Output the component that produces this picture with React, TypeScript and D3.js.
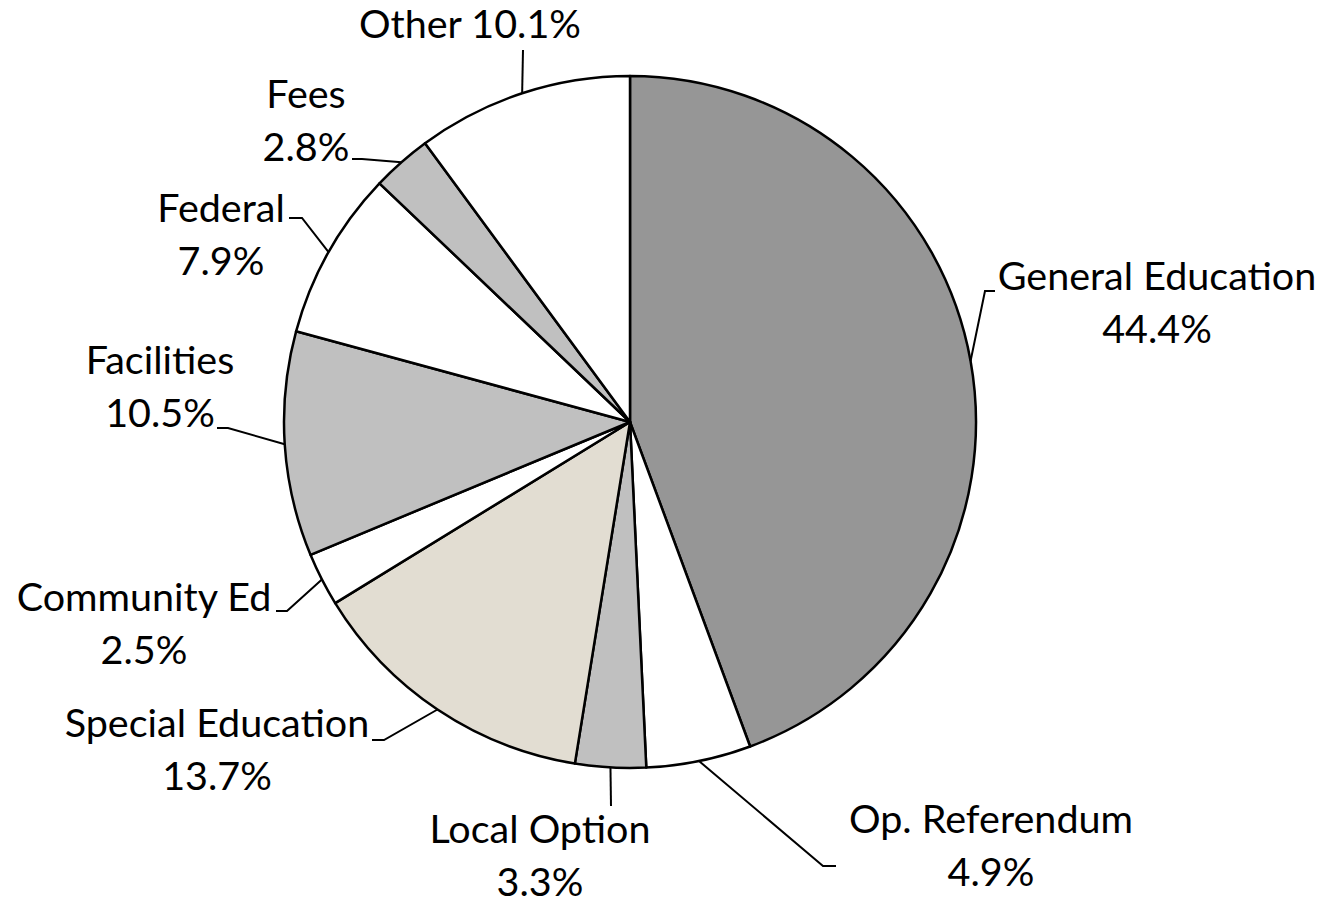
import React from 'react';
import * as d3 from 'd3';

const categories = ['General Education', 'Op. Referendum', 'Local Option', 'Special Education', 'Community Ed', 'Facilities', 'Federal', 'Fees', 'Other'];
const values = [44.4, 4.9, 3.3, 13.7, 2.5, 10.5, 7.9, 2.8, 10.1];
const fills = ['#969696', '#ffffff', '#c0c0c0', '#e2ddd2', '#ffffff', '#c0c0c0', '#ffffff', '#c0c0c0', '#ffffff'];
const singleLine = [false, false, false, false, false, false, false, false, true];

// label layout (absolute page positions): text center x, first baseline y, leader elbow, leader end
const labelX = [1157, 991, 540, 217, 144, 160, 221, 306, 470];
const labelY = [290, 833, 843, 737, 611, 374, 222, 108, 38];
const elbows = [[985, 291], [823, 866], [611, 806], [384, 740], [287, 611], [228, 428], [302, 218], [362, 159], [523, 50]];
const ends = [[995, 291], [836, 866], [611, 806], [372, 740], [276, 611], [217, 428], [289, 218], [352, 159], [523, 50]];

const W = 1323, H = 904;
const CX = 630, CY = 422, R = 346;
const FONT = 'Lato, "Open Sans", sans-serif';
const FS = 39.5;
const LH = 52.5;

export default function App() {
  const pie = d3.pie<number>().sort(null).startAngle(0).endAngle(2 * Math.PI);
  const arcs = pie(values);
  const arcGen = d3.arc<d3.PieArcDatum<number>>().innerRadius(0).outerRadius(R);
  const edgeGen = d3.arc<d3.PieArcDatum<number>>().innerRadius(R).outerRadius(R);

  return (
    <svg width={W} height={H} style={{ position: 'absolute', left: 0, top: 0, background: '#fff' }}>
      <g transform={`translate(${CX},${CY})`}>
        {arcs.map((a, i) => (
          <path key={i} d={arcGen(a) || ''} fill={fills[i]} stroke="#000" strokeWidth={2.5} strokeLinejoin="round" />
        ))}
      </g>
      {arcs.map((a, i) => {
        const [sx, sy] = edgeGen.centroid(a);
        const pts = [[CX + sx, CY + sy], elbows[i], ends[i]];
        return (
          <polyline key={'l' + i} points={pts.map(p => p.join(',')).join(' ')} fill="none" stroke="#000" strokeWidth={2} />
        );
      })}
      {arcs.map((a, i) => {
        const pct = `${values[i].toFixed(1)}%`;
        return singleLine[i] ? (
          <text key={'t' + i} x={labelX[i]} y={labelY[i]} textAnchor="middle" fontFamily={FONT} fontSize={FS} fill="#000">
            {`${categories[i]} ${pct}`}
          </text>
        ) : (
          <text key={'t' + i} textAnchor="middle" fontFamily={FONT} fontSize={FS} fill="#000">
            <tspan x={labelX[i]} y={labelY[i]}>{categories[i]}</tspan>
            <tspan x={labelX[i]} y={labelY[i] + LH}>{pct}</tspan>
          </text>
        );
      })}
    </svg>
  );
}
